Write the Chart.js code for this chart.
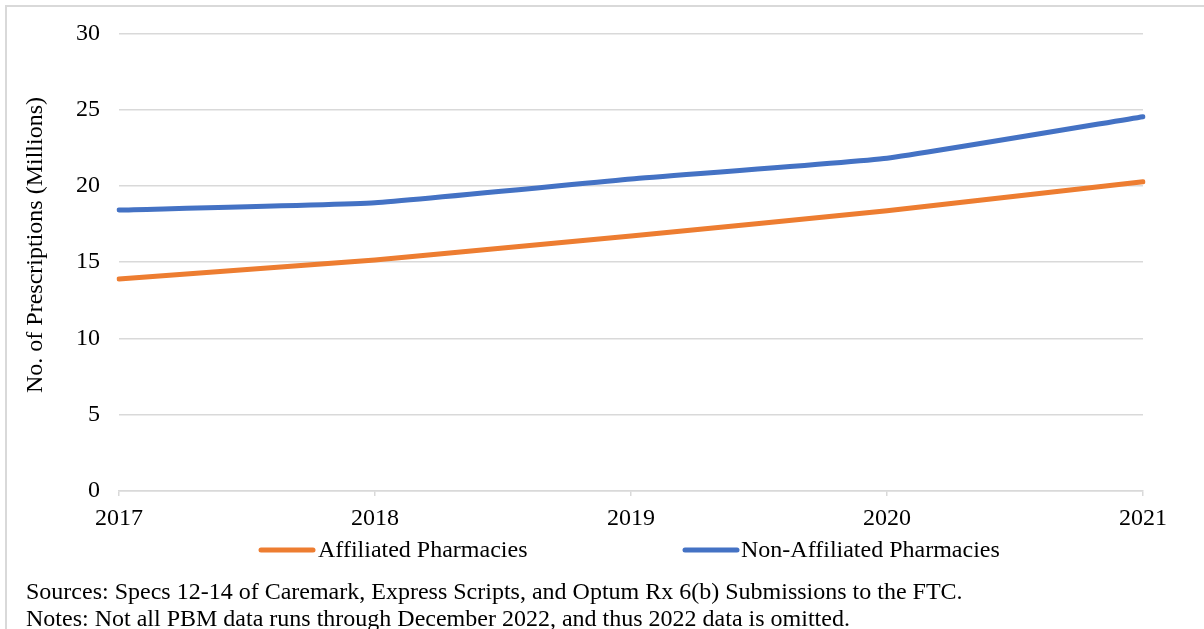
<!DOCTYPE html>
<html>
<head>
<meta charset="utf-8">
<script src="https://cdn.jsdelivr.net/npm/chart.js@4"></script>
<style>
  html, body { margin: 0; padding: 0; background: #fff; overflow: hidden; }
  #wrap { position: relative; width: 1204px; height: 629px; }
  #frame { position: absolute; left: 5px; top: 5px; width: 1260px; height: 700px; border: 2px solid #d9d9d9; box-sizing: border-box; }
  #chart { position: absolute; left: 0; top: 0; }
  .note { position: absolute; left: 26px; font-family: "Liberation Serif", "Times New Roman", serif; font-size: 24px; color: #000; white-space: nowrap; line-height: 1; }
</style>
</head>
<body>
<div id="wrap">
  <div id="frame"></div>
  <canvas id="chart" width="1204" height="629"></canvas>
  <div class="note" style="top:579px">Sources: Specs 12-14 of Caremark, Express Scripts, and Optum Rx 6(b) Submissions to the FTC.</div>
  <div class="note" style="top:606px">Notes: Not all PBM data runs through December 2022, and thus 2022 data is omitted.</div>
</div>
<script>
// Datos
const years = ['2017', '2018', '2019', '2020', '2021'];
const affiliated = [13.9, 15.15, 16.72, 18.38, 20.28];
const nonAffiliated = [18.42, 18.9, 20.46, 21.82, 24.54];
const yTicks = [0, 5, 10, 15, 20, 25, 30];

const serif = '"Liberation Serif", "Times New Roman", serif';
const gridColor = '#d9d9d9';

// Leyenda y título del eje dibujados a mano
const extras = {
    id: 'extras',
    afterDraw(chart) {
        const ctx = chart.ctx;
        ctx.save();
        ctx.fillStyle = '#000';
        ctx.font = '24px ' + serif;
        ctx.textAlign = 'center';
        ctx.textBaseline = 'middle';
        ctx.translate(36, 245);
        ctx.rotate(-Math.PI / 2);
        ctx.fillText('No. of Prescriptions (Millions)', 0, 0);
        ctx.restore();

        const items = [
            { x1: 261, x2: 313, tx: 318 },
            { x1: 685, x2: 737, tx: 741 }
        ];
        ctx.save();
        ctx.font = '24px ' + serif;
        ctx.textBaseline = 'middle';
        ctx.lineCap = 'round';
        chart.data.datasets.forEach((ds, i) => {
            const it = items[i];
            ctx.strokeStyle = ds.borderColor;
            ctx.lineWidth = 5;
            ctx.beginPath();
            ctx.moveTo(it.x1, 550);
            ctx.lineTo(it.x2, 550);
            ctx.stroke();
            ctx.fillStyle = '#000';
            ctx.fillText(ds.label, it.tx, 551);
        });
        ctx.restore();
    }
};

const ctx = document.getElementById('chart').getContext('2d');
new Chart(ctx, {
    type: 'line',
    data: {
        labels: years,
        datasets: [{
            label: 'Affiliated Pharmacies',
            data: affiliated,
            borderColor: '#ED7D31',
            backgroundColor: '#ED7D31',
            borderWidth: 5,
            borderCapStyle: 'round',
            pointRadius: 0,
            tension: 0.12
        }, {
            label: 'Non-Affiliated Pharmacies',
            data: nonAffiliated,
            borderColor: '#4472C4',
            backgroundColor: '#4472C4',
            borderWidth: 5,
            borderCapStyle: 'round',
            pointRadius: 0,
            tension: 0.12
        }]
    },
    options: {
        responsive: false,
        animation: false,
        layout: { padding: { left: 20, top: 33, right: 61, bottom: 88 } },
        plugins: { legend: { display: false }, tooltip: { enabled: false } },
        scales: {
            x: {
                offset: false,
                grid: { display: true, drawOnChartArea: false, drawTicks: true, tickLength: 5, color: gridColor, lineWidth: 1.5 },
                border: { display: true, color: gridColor, width: 1.5 },
                ticks: { color: '#000', font: { family: serif, size: 24 }, padding: 8, maxRotation: 0 },
                afterFit: s => { s.height = 50; }
            },
            y: {
                min: 0,
                max: 30,
                afterBuildTicks: s => { s.ticks = yTicks.map(v => ({ value: v })); },
                grid: { color: gridColor, lineWidth: 1.5, drawTicks: false },
                border: { display: false },
                ticks: { color: '#000', font: { family: serif, size: 24 }, padding: 19 },
                afterFit: s => { s.width = 99; }
            }
        }
    },
    plugins: [extras]
});
</script>
</body>
</html>
